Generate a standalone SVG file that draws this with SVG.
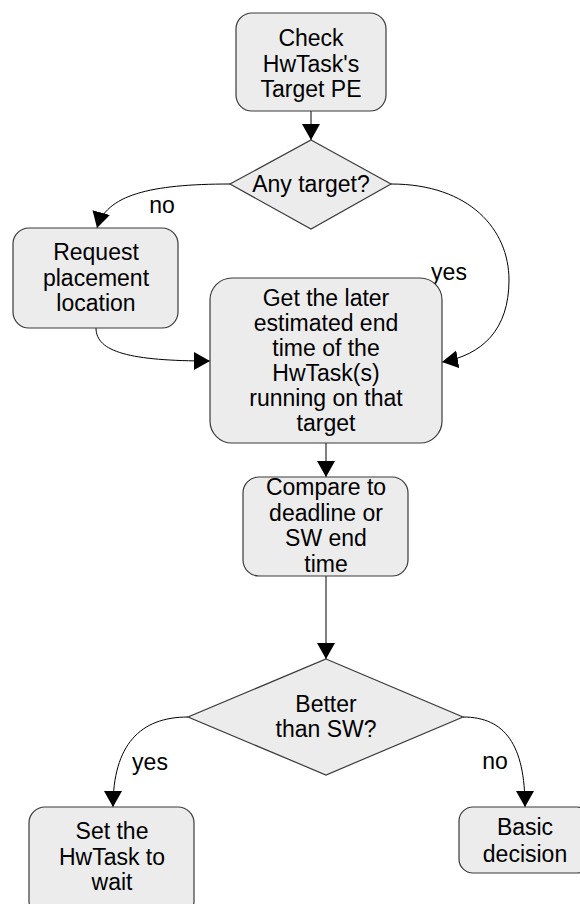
<svg xmlns="http://www.w3.org/2000/svg" width="580" height="904" viewBox="0 0 580 904">
  <style>
    .box { fill: #ececec; stroke: #3a3a3a; stroke-width: 1.2; }
    .lbl { font-family: "Liberation Sans", Arial, sans-serif; font-size: 23px; fill: #000; text-anchor: middle; }
    .edge { fill: none; stroke: #000; stroke-width: 1; }
  </style>
  <defs>
    <marker id="arrow" markerUnits="userSpaceOnUse" markerWidth="16" markerHeight="18" viewBox="0 0 16 18" refX="16" refY="9" orient="auto">
      <path d="M0,0 L16,9 L0,18 Z" fill="#000"/>
    </marker>
  </defs>

  <rect width="580" height="904" fill="#fff"/>

  <g id="connectors">
    <path class="edge" d="M311,111 L311,140" marker-end="url(#arrow)"/>
    <path class="edge" d="M230,184 C150,184 106,195 97,228" marker-end="url(#arrow)"/>
    <path class="edge" d="M96,328 C96,352 130,361 210,361" marker-end="url(#arrow)"/>
    <path class="edge" d="M391,184 C470,184 509,230 509,280 C509,330 482,355 442,362" marker-end="url(#arrow)"/>
    <path class="edge" d="M326,443 L326,477" marker-end="url(#arrow)"/>
    <path class="edge" d="M326,576 L326,659" marker-end="url(#arrow)"/>
    <path class="edge" d="M188,717 C140,717 113,745 113,807" marker-end="url(#arrow)"/>
    <path class="edge" d="M463,717 C505,717 525,745 525,807" marker-end="url(#arrow)"/>
    <text class="lbl" x="162" y="213">no</text>
    <text class="lbl" x="449" y="280">yes</text>
    <text class="lbl" x="150" y="770">yes</text>
    <text class="lbl" x="495" y="769">no</text>
  </g>

  <g id="check">
    <rect class="box" x="236" y="13" width="150" height="98" rx="16"/>
    <text class="lbl" x="311" y="46">Check</text>
    <text class="lbl" x="311" y="72">HwTask's</text>
    <text class="lbl" x="311" y="97">Target PE</text>
  </g>

  <g id="any-target">
    <polygon class="box" points="311,140 391,184 311,229 230,184"/>
    <text class="lbl" x="311" y="192">Any target?</text>
  </g>

  <g id="request">
    <rect class="box" x="13" y="228" width="165" height="100" rx="16"/>
    <text class="lbl" x="96" y="260">Request</text>
    <text class="lbl" x="96" y="286">placement</text>
    <text class="lbl" x="96" y="311">location</text>
  </g>

  <g id="get-end-time">
    <rect class="box" x="210" y="278" width="232" height="165" rx="22"/>
    <text class="lbl" x="326" y="306">Get the later</text>
    <text class="lbl" x="326" y="331">estimated end</text>
    <text class="lbl" x="326" y="356">time of the</text>
    <text class="lbl" x="326" y="381">HwTask(s)</text>
    <text class="lbl" x="326" y="406">running on that</text>
    <text class="lbl" x="326" y="431">target</text>
  </g>

  <g id="compare">
    <rect class="box" x="243" y="477" width="165" height="99" rx="16"/>
    <text class="lbl" x="326" y="495">Compare to</text>
    <text class="lbl" x="326" y="521">deadline or</text>
    <text class="lbl" x="326" y="546">SW end</text>
    <text class="lbl" x="326" y="572">time</text>
  </g>

  <g id="better">
    <polygon class="box" points="326,659 463,717 326,775 188,717"/>
    <text class="lbl" x="326" y="712">Better</text>
    <text class="lbl" x="326" y="737">than SW?</text>
  </g>

  <g id="set-wait">
    <rect class="box" x="29" y="807" width="165" height="110" rx="16"/>
    <text class="lbl" x="112" y="839">Set the</text>
    <text class="lbl" x="112" y="865">HwTask to</text>
    <text class="lbl" x="112" y="890">wait</text>
  </g>

  <g id="basic">
    <rect class="box" x="459" y="807" width="132" height="66" rx="14"/>
    <text class="lbl" x="525" y="835">Basic</text>
    <text class="lbl" x="525" y="862">decision</text>
  </g>
</svg>
